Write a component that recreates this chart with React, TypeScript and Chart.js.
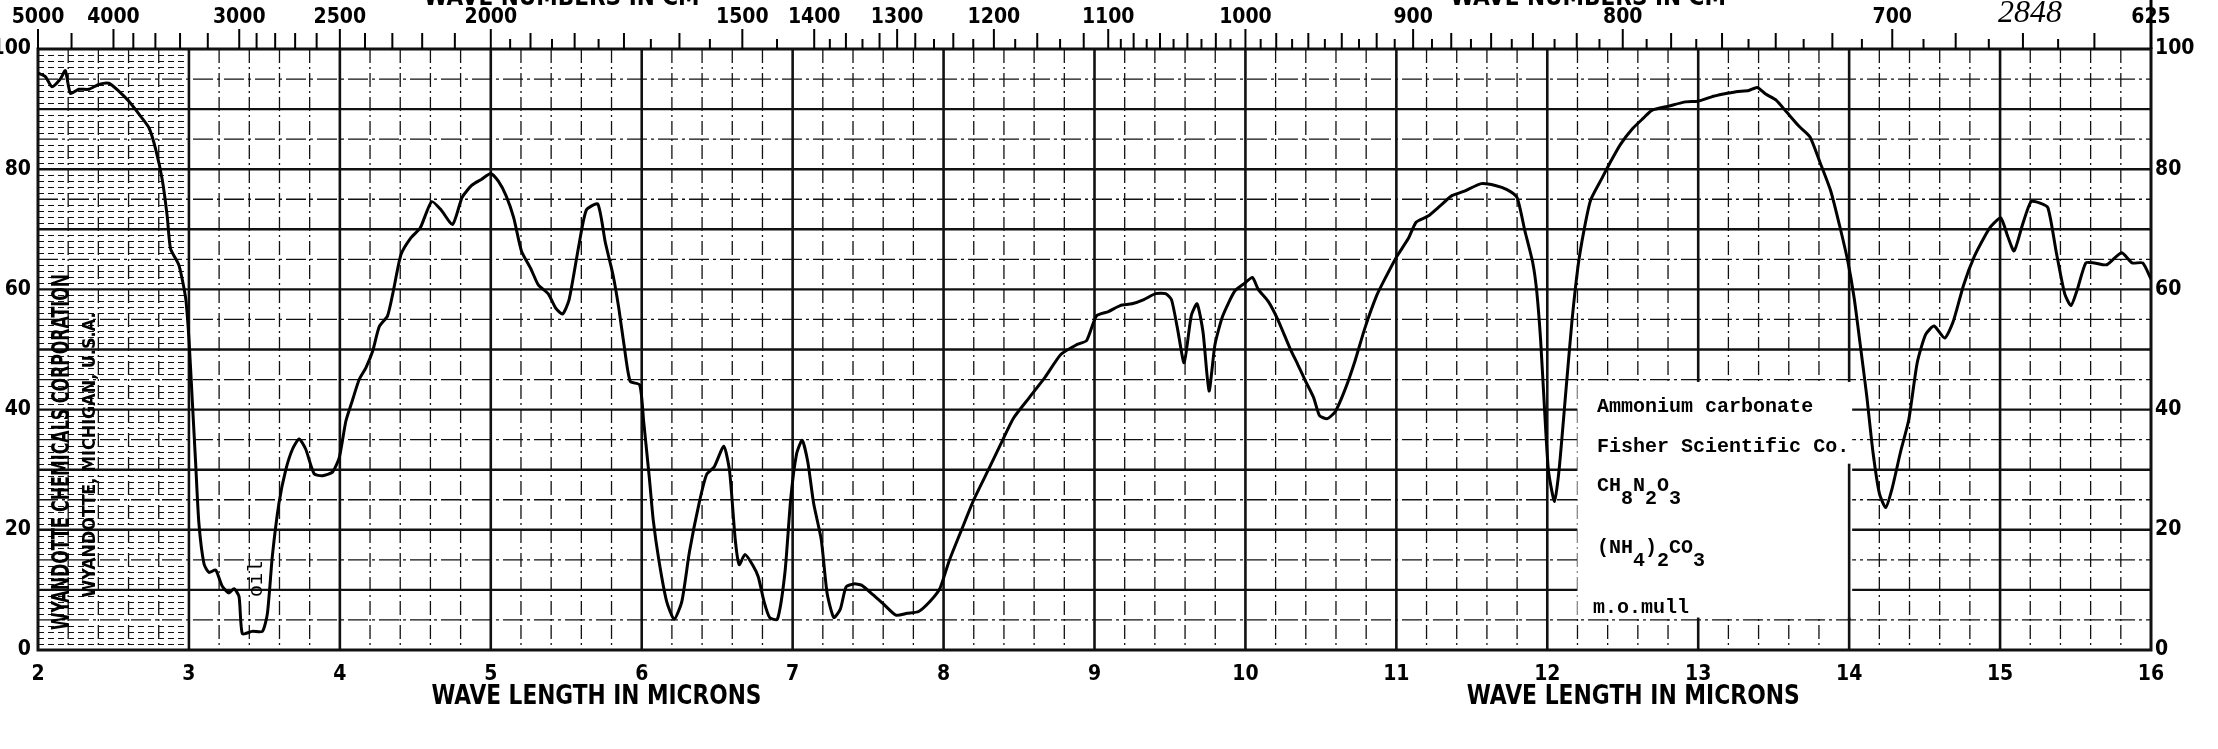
import { useEffect, useRef } from "react";
import { Chart, registerables } from "chart.js";

Chart.register(...registerables);

// ---------- data ----------
const wavelength = [
  2.0, 2.049, 2.093, 2.148, 2.181, 2.215, 2.27, 2.336, 2.403, 2.469, 2.535, 2.602, 2.668, 2.735, 2.779, 2.823, 2.856, 2.878, 2.934, 2.978,
  3.0, 3.022, 3.044, 3.066, 3.1, 3.133, 3.177, 3.221, 3.265, 3.299, 3.332, 3.354, 3.42, 3.487, 3.52, 3.553, 3.597, 3.642, 3.686, 3.73,
  3.774, 3.83, 3.885, 3.951, 3.996, 4.04, 4.084, 4.128, 4.173, 4.217, 4.261,
  4.316, 4.354, 4.405, 4.468, 4.532, 4.608, 4.671, 4.747, 4.81, 4.873, 4.937, 5.0, 5.05, 5.101, 5.152, 5.203, 5.266, 5.316, 5.38, 5.43,
  5.476, 5.519, 5.582, 5.633, 5.709, 5.759, 5.81, 5.848, 5.886, 5.924, 5.987, 6.013, 6.051, 6.076, 6.114, 6.165, 6.215, 6.266, 6.316, 6.38,
  6.43, 6.481, 6.544, 6.582, 6.62, 6.646, 6.684, 6.734, 6.772, 6.81, 6.848, 6.899, 6.949, 6.987, 7.025, 7.063, 7.101, 7.139, 7.19, 7.228,
  7.273, 7.316, 7.354, 7.405, 7.456, 7.532, 7.608, 7.684, 7.759, 7.835, 7.911, 7.975, 8.038,
  8.124, 8.202, 8.307, 8.385, 8.464, 8.568, 8.673, 8.778, 8.882, 8.948, 9.013, 9.092, 9.17, 9.248, 9.327, 9.405, 9.471, 9.51, 9.549, 9.594,
  9.641, 9.68, 9.719, 9.759, 9.798, 9.85, 9.929, 9.994, 10.046, 10.085, 10.151, 10.216, 10.295, 10.347, 10.399, 10.452, 10.491, 10.543, 10.596, 10.661,
  10.726, 10.792, 10.87, 10.923, 11.001, 11.08, 11.132, 11.21, 11.29, 11.368, 11.446, 11.563, 11.655, 11.733, 11.799, 11.851, 11.904, 11.93, 11.956, 11.982,
  12.008, 12.048,
  12.079, 12.121, 12.163, 12.205, 12.246, 12.288, 12.358, 12.414, 12.484, 12.567, 12.637, 12.693, 12.805, 12.916, 13.0, 13.084, 13.167, 13.251, 13.335, 13.391,
  13.447, 13.516, 13.586, 13.67, 13.74, 13.809, 13.879, 13.935, 13.991, 14.033, 14.075, 14.116, 14.158, 14.2, 14.242, 14.284, 14.34, 14.395, 14.451, 14.507,
  14.563, 14.633, 14.689, 14.758, 14.828, 14.898, 14.94, 15.004, 15.051, 15.093, 15.149, 15.205, 15.261, 15.317, 15.373, 15.428, 15.47, 15.512, 15.568, 15.624,
  15.707, 15.805, 15.875, 15.945, 16.0,
];

const transmittance = [
  96, 95.4, 93.7, 95, 96.4, 92.6, 93.3, 93.3, 94.1, 94.3, 93, 91.3, 89.2, 86.9, 83.4, 78.3, 72.2, 66.8, 64, 58.6,
  51.8, 41.6, 31.3, 21.1, 14.3, 12.9, 13.3, 10.6, 9.5, 10.2, 8.9, 2.7, 3.1, 3.1, 6.1, 15.7, 24.5, 30, 33.4, 35.1,
  33.4, 29.3, 29, 29.6, 32, 38.1, 41.6, 45, 47, 49.7, 53.8,
  55.6, 59.7, 65.8, 68.5, 70.2, 74.6, 73.2, 70.8, 75.3, 77.3, 78.3, 79.3, 78, 75.6, 71.9, 66.4, 63.4, 60.7, 59.3, 56.9,
  55.9, 58.3, 67.1, 73.2, 74.2, 67.8, 62.4, 56.9, 50.2, 44.7, 44.1, 38, 28.5, 21.7, 14.9, 8.1, 5.1, 8.1, 16.3, 24.4,
  29.2, 30.5, 33.9, 29.8, 18.3, 14.2, 15.9, 14.2, 12.2, 8.1, 5.4, 5.1, 12.9, 25.1, 32.5, 34.9, 31.2, 24.4, 18.3, 9.5,
  5.4, 6.8, 10.5, 11, 10.8, 9.2, 7.5, 5.8, 6.1, 6.4, 8.1, 10.2, 14.9,
  20.3, 25.1, 30.5, 34.6, 38.6, 42, 45.4, 49.2, 50.8, 51.5, 55.6, 56.3, 57.3, 57.6, 58.3, 59.3, 59.3, 58.3, 53.6, 47.8,
  55.6, 57.6, 52.9, 43.1, 50.8, 55.6, 59.7, 61, 62, 60, 58, 54.9, 50.2, 47.5, 44.7, 42, 39, 38.5, 39.7, 43.4,
  48.1, 53.6, 59, 61.7, 65.4, 68.5, 71.2, 72.2, 73.9, 75.6, 76.3, 77.6, 77.3, 76.6, 75.3, 69.8, 64.4, 59.7, 51.5, 40,
  29.8, 24.7,
  30.2, 42.4, 54.6, 64.1, 70.2, 74.9, 78.3, 81, 84.1, 86.8, 88.5, 89.8, 90.5, 91.2, 91.3, 92, 92.5, 92.9, 93.1, 93.6,
  92.5, 91.5, 89.5, 87.1, 85.4, 81, 76.3, 70.8, 64.7, 58.6, 50.5, 42.4, 32.9, 26.1, 23.7, 26.8, 32.9, 38.3, 47.8, 52.5,
  53.9, 51.9, 54.6, 60.7, 65.4, 68.8, 70.5, 71.9, 68.8, 66.4, 70.8, 74.6, 74.4, 73.6, 66.1, 59.3, 57.3, 60, 64.4, 64.4,
  64.1, 66.1, 64.4, 64.4, 61.7,
];

const micronRange = [2, 16];
const percentRange = [0, 100];
const waveNumberLabels = [5000, 4000, 3000, 2500, 2000, 1500, 1400, 1300, 1200, 1100, 1000, 900, 800, 700, 625];
// [from, to, step, long-every] for the small wave-number ticks
const waveNumberTickRuns = [
  [5000, 4000, 500, 500],
  [4000, 3000, 200, 200],
  [3000, 2000, 100, 100],
  [2000, 1400, 50, 100],
  [1400, 1100, 20, 40],
  [1100, 630, 10, 20],
];
const xTitle = "WAVE LENGTH IN MICRONS";
const topTitle = "WAVE NUMBERS IN CM";
const sampleName = "Ammonium carbonate";
const sampleSource = "Fisher Scientific Co.";
const formula1 = [["CH", 0], ["8", 1], ["N", 0], ["2", 1], ["O", 0], ["3", 1]];
const formula2 = [["(NH", 0], ["4", 1], [")", 0], ["2", 1], ["CO", 0], ["3", 1]];
const sampleMethod = "m.o.mull";
const company1 = "WYANDOTTE CHEMICALS CORPORATION";
const company2 = "WYANDOTTE, MICHIGAN, U.S.A.";
const chartNumber = "2848";

const NARROW = "'Liberation Sans Narrow', 'DejaVu Sans Condensed', 'Liberation Sans', sans-serif";
const MONO = "'Liberation Mono', 'DejaVu Sans Mono', monospace";

function fitText(ctx: CanvasRenderingContext2D, text: string, cx: number, cy: number, length: number, font: string, rot: number) {
  ctx.save();
  ctx.font = font;
  const w = ctx.measureText(text).width;
  ctx.translate(cx, cy);
  ctx.rotate(rot);
  ctx.scale(length / w, 1);
  ctx.textAlign = "center";
  ctx.textBaseline = "middle";
  ctx.fillText(text, 0, 0);
  ctx.restore();
}

const paperPlugin = {
  id: "paper",
  beforeDatasetsDraw(chart: any) {
    const { ctx, chartArea: a, scales } = chart;
    const x = scales.x;
    const y = scales.y;
    ctx.save();
    ctx.strokeStyle = "#111";
    // dense hatching at the left edge of the paper
    ctx.lineWidth = 1;
    ctx.setLineDash([6, 4]);
    for (let v = 1; v < 100; v++) {
      if (v % 5 === 0) continue;
      const py = Math.round(y.getPixelForValue(v)) + 0.5;
      ctx.beginPath();
      ctx.moveTo(x.getPixelForValue(2), py);
      ctx.lineTo(x.getPixelForValue(3.0), py);
      ctx.stroke();
    }
    // minor vertical lines every 0.2 micron
    ctx.lineWidth = 1.3;
    ctx.setLineDash([14, 4, 2, 4]);
    for (let i = 1; i < 70; i++) {
      if (i % 5 === 0) continue;
      const px = x.getPixelForValue(micronRange[0] + i * 0.2);
      ctx.beginPath();
      ctx.moveTo(px, a.top);
      ctx.lineTo(px, a.bottom);
      ctx.stroke();
    }
    // minor horizontal lines every 5 %
    ctx.setLineDash([20, 4, 3, 4]);
    for (let v = 5; v < 100; v += 10) {
      const py = y.getPixelForValue(v);
      ctx.beginPath();
      ctx.moveTo(a.left, py);
      ctx.lineTo(a.right, py);
      ctx.stroke();
    }
    ctx.setLineDash([]);
    // major lines
    ctx.lineWidth = 2.6;
    for (let m = 3; m < 16; m++) {
      const px = x.getPixelForValue(m);
      ctx.beginPath();
      ctx.moveTo(px, a.top);
      ctx.lineTo(px, a.bottom);
      ctx.stroke();
    }
    ctx.lineWidth = 2.4;
    for (let v = 10; v < 100; v += 10) {
      const py = y.getPixelForValue(v);
      ctx.beginPath();
      ctx.moveTo(a.left, py);
      ctx.lineTo(a.right, py);
      ctx.stroke();
    }
    // white label box
    const bx0 = x.getPixelForValue(12.2);
    const bx1 = x.getPixelForValue(14.0) + 3;
    const by0 = y.getPixelForValue(44.6);
    const by1 = y.getPixelForValue(5.4);
    ctx.fillStyle = "#fff";
    ctx.fillRect(bx0, by0, bx1 - bx0, by1 - by0);
    ctx.lineWidth = 2.6;
    ctx.beginPath();
    ctx.moveTo(x.getPixelForValue(14), y.getPixelForValue(31));
    ctx.lineTo(x.getPixelForValue(14), y.getPixelForValue(5));
    ctx.stroke();
    // frame
    ctx.lineWidth = 3;
    ctx.strokeRect(a.left, a.top, a.right - a.left, a.bottom - a.top);
    ctx.restore();
  },
  afterDraw(chart: any) {
    const { ctx, chartArea: a, scales } = chart;
    const x = scales.x;
    const y = scales.y;
    ctx.save();
    ctx.fillStyle = "#000";
    ctx.strokeStyle = "#000";
    // top wave-number axis
    ctx.lineWidth = 2;
    const labelled = new Set(waveNumberLabels);
    for (const [from, to, step, longEvery] of waveNumberTickRuns) {
      for (let wn = from; wn > to; wn -= step) {
        if (labelled.has(wn)) continue;
        const px = x.getPixelForValue(10000 / wn);
        const len = wn % longEvery === 0 ? 16 : 10;
        ctx.beginPath();
        ctx.moveTo(px, a.top);
        ctx.lineTo(px, a.top - len);
        ctx.stroke();
      }
    }
    ctx.font = `bold 21px ${NARROW}`;
    ctx.textAlign = "center";
    ctx.textBaseline = "middle";
    for (const wn of waveNumberLabels) {
      const px = x.getPixelForValue(10000 / wn);
      ctx.beginPath();
      ctx.moveTo(px, a.top);
      ctx.lineTo(px, a.top - 20);
      ctx.stroke();
      ctx.fillText(String(wn), px, 18);
    }
    ctx.lineWidth = 3;
    ctx.beginPath();
    ctx.moveTo(a.right, a.top);
    ctx.lineTo(a.right, 0);
    ctx.stroke();
    // top titles (cut by the top edge)
    ctx.font = `bold 24px ${NARROW}`;
    ctx.textBaseline = "alphabetic";
    for (const cx of [x.getPixelForValue(5.47), x.getPixelForValue(12.27)]) {
      ctx.fillText(topTitle, cx, 5);
      const w = ctx.measureText(topTitle).width;
      ctx.font = `bold 16px ${NARROW}`;
      ctx.fillText("-1", cx + w / 2 + 10, -4);
      ctx.font = `bold 24px ${NARROW}`;
    }
    // bottom titles
    fitText(ctx, xTitle, x.getPixelForValue(5.7), 697, 330, `bold 26px ${NARROW}`, 0);
    fitText(ctx, xTitle, x.getPixelForValue(12.57), 697, 333, `bold 26px ${NARROW}`, 0);
    // company imprint
    fitText(ctx, company1, 63, 452, 356, `bold 24px ${NARROW}`, -Math.PI / 2);
    fitText(ctx, company2, 90, 455, 285, `bold 18px ${NARROW}`, -Math.PI / 2);
    // oil note
    ctx.save();
    ctx.translate(x.getPixelForValue(3.45), y.getPixelForValue(11.8));
    ctx.rotate(-Math.PI / 2);
    ctx.font = `20px ${MONO}`;
    ctx.textAlign = "center";
    ctx.textBaseline = "middle";
    ctx.fillText("oil", 0, 0);
    ctx.restore();
    // sample box text
    ctx.font = `bold 20px ${MONO}`;
    ctx.textAlign = "left";
    ctx.textBaseline = "alphabetic";
    const tx = x.getPixelForValue(12.33);
    ctx.fillText(sampleName, tx, y.getPixelForValue(39.6));
    ctx.fillText(sampleSource, tx, y.getPixelForValue(32.9));
    const drawFormula = (parts: any[], base: number) => {
      let cx = tx;
      ctx.font = `bold 20px ${MONO}`;
      for (const [t, sub] of parts) {
        ctx.fillText(t, cx, base + (sub ? 13 : 0));
        cx += ctx.measureText(t).width;
      }
    };
    drawFormula(formula1, y.getPixelForValue(26.5));
    drawFormula(formula2, y.getPixelForValue(16.2));
    ctx.font = `bold 20px ${MONO}`;
    ctx.fillText(sampleMethod, tx - 4, y.getPixelForValue(6.1));
    // chart number, hand written
    ctx.font = `italic 32px 'Liberation Serif', 'DejaVu Serif', serif`;
    ctx.textAlign = "center";
    ctx.textBaseline = "alphabetic";
    ctx.fillText(chartNumber, 2030, 22);
    ctx.restore();
  },
};

export default function App() {
  const ref = useRef<HTMLCanvasElement | null>(null);
  useEffect(() => {
    document.body.style.margin = "0";
    const canvas = ref.current;
    if (!canvas) return;
    const chart = new Chart(canvas, {
      type: "line",
      data: {
        datasets: [
          {
            data: wavelength.map((w, i) => ({ x: w, y: transmittance[i] })),
            borderColor: "#000",
            borderWidth: 3,
            pointRadius: 0,
            tension: 0.2,
            fill: false,
            yAxisID: "y",
          },
        ],
      },
      options: {
        animation: false,
        responsive: true,
        maintainAspectRatio: false,
        devicePixelRatio: 1,
        layout: { padding: { top: 49, left: 0, right: 0, bottom: 0 } },
        plugins: { legend: { display: false }, tooltip: { enabled: false } },
        scales: {
          x: {
            type: "linear",
            min: micronRange[0],
            max: micronRange[1],
            grid: { display: false, drawTicks: false },
            border: { display: false },
            ticks: {
              stepSize: 1,
              autoSkip: false,
              maxRotation: 0,
              padding: 12,
              color: "#000",
              font: { family: NARROW, size: 21, weight: "bold" },
            },
            afterFit: (s: any) => {
              s.height = 99;
            },
          },
          y: {
            position: "left",
            min: percentRange[0],
            max: percentRange[1],
            grid: { display: false, drawTicks: false },
            border: { display: false },
            ticks: {
              stepSize: 20,
              padding: 7,
              color: "#000",
              font: { family: NARROW, size: 21, weight: "bold" },
            },
            afterFit: (s: any) => {
              s.width = 38;
            },
          },
          y2: {
            position: "right",
            min: percentRange[0],
            max: percentRange[1],
            grid: { display: false, drawTicks: false },
            border: { display: false },
            ticks: {
              stepSize: 20,
              padding: 4,
              color: "#000",
              font: { family: NARROW, size: 21, weight: "bold" },
            },
            afterFit: (s: any) => {
              s.width = 67;
            },
          },
        },
      },
      plugins: [paperPlugin],
    } as any);
    return () => chart.destroy();
  }, []);
  return (
    <div style={{ position: "absolute", left: 0, top: 0, width: 2218, height: 749, background: "#fff" }}>
      <canvas ref={ref} />
    </div>
  );
}
